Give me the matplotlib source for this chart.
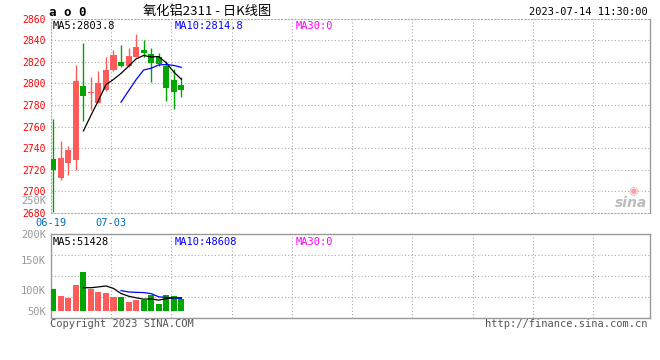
import matplotlib
matplotlib.use('Agg')
import matplotlib.pyplot as plt
import numpy as np

# daily candles, 氧化铝2311
dates = ['06-19', '06-20', '06-21', '06-26', '06-27', '06-28', '06-29', '06-30',
         '07-03', '07-04', '07-05', '07-06', '07-07', '07-10', '07-11', '07-12',
         '07-13', '07-14']
opens = [2730, 2712, 2726, 2729, 2797.5, 2791, 2782, 2794, 2812, 2820, 2816, 2824,
         2831, 2827.5, 2824, 2816, 2803, 2798]
highs = [2767, 2747, 2742, 2817, 2837.5, 2805.5, 2811.5, 2824.5, 2831, 2835.5, 2833,
         2845.5, 2840.5, 2832.5, 2828.5, 2821, 2813, 2806]
lows = [2681, 2711, 2715, 2720, 2765.5, 2775, 2781.5, 2793, 2811, 2815.5, 2815.5,
        2824, 2824, 2801, 2816, 2783.5, 2776.5, 2787.5]
closes = [2720, 2731, 2738.5, 2802, 2788, 2792, 2800, 2812, 2826, 2816, 2825, 2834,
          2828, 2819, 2818, 2796, 2792, 2794]
volumes = [86600, 59400, 51700, 102100, 152500, 85300, 74900, 71100, 54000, 53500,
           33500, 44500, 43440, 60700, 28400, 62000, 58100, 47940]

price_ticks = list(range(2680, 2861, 20))
vol_tick_vals = [0, 81400, 197700, 298400]
vol_tick_labels = ['50K', '100K', '150K', '200K']
date_tick_idx = [0, 8]

RED = '#ff5b5b'
GREEN = '#00a600'
GRID = '#aaaaaa'
MONO = 'DejaVu Sans Mono'

W, H = 660, 360


def px(x, y):
    return x / W, 1 - y / H


def ma(vals, n):
    vals = np.asarray(vals, float)
    out = np.full(len(vals), np.nan)
    for i in range(n - 1, len(vals)):
        out[i] = vals[i - n + 1:i + 1].mean()
    return out


def dotted_grid(ax, xs, ys):
    for x in xs:
        ax.axvline(x, color=GRID, lw=0.8, ls=(0, (1, 2)), zorder=0)
    for y in ys:
        ax.axhline(y, color=GRID, lw=0.8, ls=(0, (1, 2)), zorder=0)


o = np.array(opens); c = np.array(closes)
idx = np.arange(len(dates))
up = c >= o
cols = [RED if u else GREEN for u in up]

fig = plt.figure(figsize=(6.6, 3.6), dpi=100)

x0 = -0.3
xlim = (x0, x0 + 79.55)
grid_x = [x0 + 8 * k for k in range(1, 10)]

# ---- price panel
axp = fig.add_axes([51 / W, (H - 213) / H, 599 / W, (213 - 18.5) / H])
axp.set_xlim(*xlim)
axp.set_ylim(2680, 2860)
dotted_grid(axp, grid_x, price_ticks[1:-1])
axp.vlines(idx, lows, highs, colors=cols, lw=1.0, zorder=2)
body = np.maximum(np.abs(c - o), 0.6)
axp.bar(idx, body, bottom=np.minimum(o, c), width=0.8, color=cols, lw=0, zorder=3)
axp.plot(idx, ma(closes, 5), color='black', lw=0.9, zorder=4)
axp.plot(idx, ma(closes, 10), color='#0000ff', lw=0.9, zorder=4)

axp.set_yticks(price_ticks)
axp.set_yticklabels([str(t) for t in price_ticks], color='#ff0000', fontsize=7, family=MONO)
axp.set_xticks([x0 + 8 * k for k in range(2)])
axp.set_xticklabels([dates[i] for i in date_tick_idx], color='#0070c0', fontsize=7.5, family=MONO)
axp.tick_params(length=0, pad=3.5)
for s in ['left', 'top', 'bottom']:
    axp.spines[s].set_color(GRID)
    axp.spines[s].set_linestyle((0, (1, 2)))
    axp.spines[s].set_linewidth(0.8)
axp.spines['right'].set_color('#999999')
axp.spines['right'].set_linewidth(1)

ma5 = ma(closes, 5)[-1]
ma10 = ma(closes, 10)[-1]
axp.text(0.003, 0.985, f'MA5:{ma5:.1f}', transform=axp.transAxes, va='top',
         fontsize=7.5, family=MONO, color='black')
axp.text(0.206, 0.985, f'MA10:{ma10:.1f}', transform=axp.transAxes, va='top',
         fontsize=7.5, family=MONO, color='#0000ff')
axp.text(0.408, 0.985, 'MA30:0', transform=axp.transAxes, va='top',
         fontsize=7.5, family=MONO, color='#ff00ff')

# sina watermark
fig.text(*px(633, 191), '◉', color='#f5a0a0', fontsize=8, ha='center', va='center')
fig.text(*px(631, 203), 'sina', color='#bbbbbb', fontsize=10, fontstyle='italic',
         fontweight='bold', ha='center', va='center')

# ---- volume panel
axv = fig.add_axes([51 / W, (H - 317.7) / H, 599 / W, (317.7 - 234) / H])
axv.set_xlim(*xlim)
vlo, vhi = -25970, 298450
axv.set_ylim(vlo, vhi)
dotted_grid(axv, grid_x, [vlo + (vhi - vlo) * f for f in (0.25, 0.5, 0.75)])
axv.bar(idx, volumes, width=0.8, color=cols, lw=0, zorder=3)
axv.plot(idx, ma(volumes, 5), color='black', lw=0.9, zorder=4)
axv.plot(idx, ma(volumes, 10), color='#0000ff', lw=0.9, zorder=4)
axv.set_xticks([])
axv.set_yticks(vol_tick_vals)
axv.set_yticklabels(vol_tick_labels, color='#999999', fontsize=7.5, family=MONO)
axv.tick_params(length=0, pad=3.5)
for s in axv.spines.values():
    s.set_color('#999999')
    s.set_linewidth(1)

vma5 = ma(volumes, 5)[-1]
vma10 = ma(volumes, 10)[-1]
axv.text(0.003, 0.96, f'MA5:{vma5:.0f}', transform=axv.transAxes, va='top',
         fontsize=7.5, family=MONO, color='black')
axv.text(0.206, 0.96, f'MA10:{vma10:.0f}', transform=axv.transAxes, va='top',
         fontsize=7.5, family=MONO, color='#0000ff')
axv.text(0.408, 0.96, 'MA30:0', transform=axv.transAxes, va='top',
         fontsize=7.5, family=MONO, color='#ff00ff')

fig.text(*px(46, 201), '250K', color='#999999', fontsize=7.5, family=MONO,
         ha='right', va='center')

# ---- header / footer
fig.text(*px(49, 12), 'a o 0', fontsize=9, fontweight='bold', family=MONO,
         ha='left', va='center')
fig.text(*px(207, 12), '氧化铝2311 - 日K线图', fontsize=9.5,
         family=['Noto Sans CJK SC', 'DejaVu Sans'], ha='center', va='center')
fig.text(*px(648, 12), '2023-07-14 11:30:00', fontsize=7.5, family=MONO,
         ha='right', va='center')
fig.text(*px(50, 324), 'Copyright 2023 SINA.COM', fontsize=7.5, family=MONO,
         color='#555555', ha='left', va='center')
fig.text(*px(648, 324), 'http://finance.sina.com.cn', fontsize=7.5, family=MONO,
         color='#555555', ha='right', va='center')

fig.savefig('out.png', dpi=100)
